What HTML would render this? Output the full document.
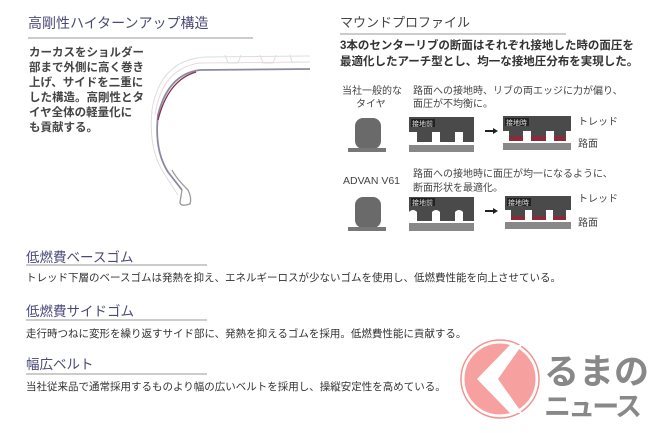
<!DOCTYPE html>
<html><head><meta charset="utf-8"><style>
body{margin:0;background:#fff;}
svg{display:block;}
text{font-family:"Liberation Sans","Noto Sans CJK JP",sans-serif;}
</style></head><body>
<svg width="650" height="433" viewBox="0 0 650 433" xmlns="http://www.w3.org/2000/svg">
<rect width="650" height="433" fill="#fff"/>
<text x="28" y="28" font-size="14" fill="#4a4a78">高剛性ハイターンアップ構造</text>
<line x1="28" y1="38" x2="253" y2="38" stroke="#bbb" stroke-width="1.5"/>
<g font-size="11.5" fill="#444" font-weight="bold">
<text x="29" y="56">カーカスをショルダー</text>
<text x="29" y="71">部まで外側に高く巻き</text>
<text x="29" y="86">上げ、サイドを二重に</text>
<text x="29" y="101">した構造。高剛性とタ</text>
<text x="29" y="116">イヤ全体の軽量化に</text>
<text x="29" y="131">も貢献する。</text>
</g>
<g fill="none">
<path d="M310,56 L205,57 Q160,60 152,110 Q148,150 165,175 L178,195" stroke="#ddd" stroke-width="1"/>
<path d="M310,62 L200,63 Q162,68 155,115" stroke="#e8d8e0" stroke-width="1"/>
<path d="M310,69 L200,70 Q168,74 158,115 Q154,150 168,172 L182,190" stroke="#8a8aa0" stroke-width="1.8"/>
<path d="M196,72 Q168,80 158,120" stroke="#8a3050" stroke-width="1.3"/>
<path d="M182,190 L180,202 Q180,206 186,205 L190,204 Q192,198 188,190 Q176,178 172,170" stroke="#999" stroke-width="1.3"/>
<path d="M225,55 l3,8 h10 l3,-8 M260,55 l3,8 h10 l3,-8 M290,55 l2,7 h8" stroke="#ddd"/>
</g>
<text x="340" y="27" font-size="13" fill="#444">マウンドプロファイル</text>
<line x1="340" y1="34" x2="566" y2="34" stroke="#bbb" stroke-width="1.5"/>
<text x="340" y="49" font-size="11.5" fill="#333" font-weight="bold">3本のセンターリブの断面はそれぞれ接地した時の面圧を</text>
<text x="340" y="65" font-size="11.5" fill="#333" font-weight="bold">最適化したアーチ型とし、均一な接地圧分布を実現した。</text>
<g font-size="10" fill="#444">
<text x="342" y="94">当社一般的な</text>
<text x="356" y="107">タイヤ</text>
<text x="413" y="94">路面への接地時、リブの両エッジに力が偏り、</text>
<text x="413" y="107">面圧が不均衡に。</text>
<text x="578" y="125">トレッド</text>
<text x="578" y="147">路面</text>
<text x="343" y="184" font-size="10.5">ADVAN V61</text>
<text x="413" y="177">路面への接地時に面圧が均一になるように、</text>
<text x="413" y="191">断面形状を最適化。</text>
<text x="578" y="202">トレッド</text>
<text x="578" y="226">路面</text>
</g>
<g>
<rect x="355" y="118" width="26" height="31" rx="8" fill="#6a6a6a"/>
<rect x="348" y="148" width="38" height="4" fill="#777"/>
<rect x="355" y="197" width="26" height="31" rx="8" fill="#6a6a6a"/>
<rect x="348" y="227" width="38" height="4" fill="#777"/>
</g>
<g>
<path d="M409,117 H474 V142 H463 V132 H455 V142 H440 V132 H432 V142 H417 V132 H409 Z" fill="#4a4a4a"/>
<rect x="409" y="145" width="65" height="7" fill="#888"/>
<rect x="411" y="119" width="24" height="8" fill="#222"/><text x="412" y="126" font-size="7" fill="#ddd">接地前</text>
<path d="M485,131 h9" stroke="#222" stroke-width="2"/><path d="M493,128 l5,3 l-5,3z" fill="#222"/>
<path d="M503,116 H571 V141 H503 Z" fill="#4a4a4a"/>
<rect x="503" y="131" width="6" height="10" fill="#fff"/><rect x="523" y="131" width="8" height="10" fill="#fff"/><rect x="546" y="131" width="8" height="10" fill="#fff"/><rect x="566" y="131" width="5" height="10" fill="#fff"/>
<rect x="509" y="136" width="14" height="5" fill="#8a2a3a"/><rect x="531" y="136" width="15" height="5" fill="#8a2a3a"/><rect x="554" y="136" width="12" height="5" fill="#8a2a3a"/>
<rect x="503" y="143" width="68" height="7" fill="#888"/>
<rect x="505" y="118" width="24" height="8" fill="#222"/><text x="506" y="125" font-size="7" fill="#ddd">接地時</text>
</g>
<g>
<path d="M409,197 H474 V221 H463 V212 Q459,208 455,212 V221 H440 V212 Q436,208 432,212 V221 H417 V212 Q413,208 409,212 Z" fill="#4a4a4a"/>
<rect x="409" y="223" width="65" height="8" fill="#888"/>
<rect x="411" y="198" width="24" height="8" fill="#222"/><text x="412" y="205" font-size="7" fill="#ddd">接地前</text>
<path d="M485,211 h9" stroke="#222" stroke-width="2"/><path d="M493,208 l5,3 l-5,3z" fill="#222"/>
<path d="M505,196 H571 V220 H505 Z" fill="#4a4a4a"/>
<rect x="505" y="210" width="6" height="10" fill="#fff"/><rect x="525" y="210" width="7" height="10" fill="#fff"/><rect x="546" y="210" width="7" height="10" fill="#fff"/><rect x="566" y="210" width="5" height="10" fill="#fff"/>
<rect x="511" y="216" width="14" height="4" fill="#8a2a3a"/><rect x="532" y="216" width="14" height="4" fill="#8a2a3a"/><rect x="553" y="216" width="13" height="4" fill="#8a2a3a"/>
<rect x="505" y="222" width="66" height="7" fill="#888"/>
<rect x="507" y="198" width="24" height="8" fill="#222"/><text x="508" y="205" font-size="7" fill="#ddd">接地時</text>
</g>
<text x="26" y="262" font-size="13.5" fill="#4a4a78">低燃費ベースゴム</text>
<line x1="26" y1="265" x2="207" y2="265" stroke="#bbb" stroke-width="1.5"/>
<text x="26" y="281" font-size="10.5" fill="#333">トレッド下層のベースゴムは発熱を抑え、エネルギーロスが少ないゴムを使用し、低燃費性能を向上させている。</text>
<text x="26" y="316" font-size="13.5" fill="#4a4a78">低燃費サイドゴム</text>
<line x1="26" y1="320" x2="207" y2="320" stroke="#bbb" stroke-width="1.5"/>
<text x="26" y="337" font-size="10.5" fill="#333">走行時つねに変形を繰り返すサイド部に、発熱を抑えるゴムを採用。低燃費性能に貢献する。</text>
<text x="26" y="369" font-size="13.5" fill="#4a4a78">幅広ベルト</text>
<line x1="26" y1="374" x2="207" y2="374" stroke="#bbb" stroke-width="1.5"/>
<text x="26" y="390" font-size="10.5" fill="#333">当社従来品で通常採用するものより幅の広いベルトを採用し、操縦安定性を高めている。</text>
<circle cx="500" cy="379" r="37" fill="#f7a0a0" stroke="#fff" stroke-width="3"/>
<circle cx="500" cy="379" r="39" fill="none" stroke="#f59090" stroke-width="1.5"/>
<path d="M510,345 L477,379 L510,413 L522,413 L498,379 L522,345 Z" fill="#fff"/>
<text x="544" y="384" font-size="35" font-weight="bold" fill="#888">るまの</text>
<text x="544" y="416" font-size="27" font-weight="bold" fill="#888" textLength="98">ニュース</text>
</svg>
</body></html>
